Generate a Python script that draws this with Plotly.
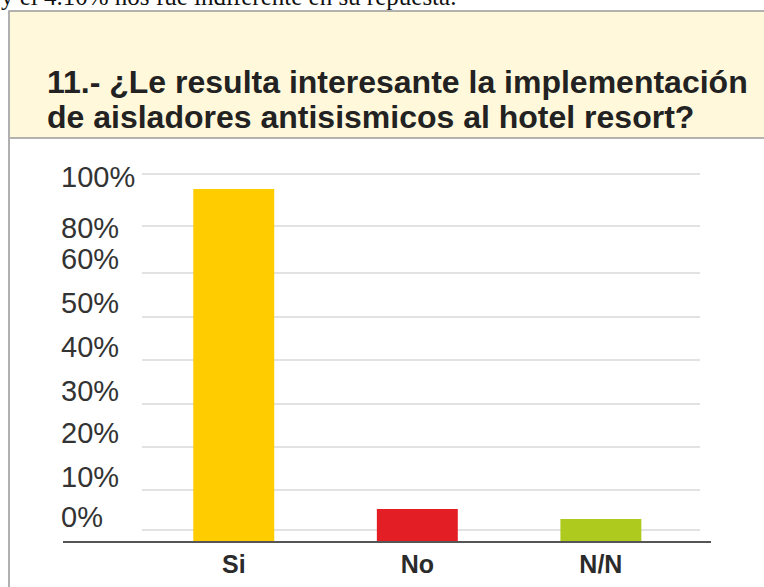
import plotly.graph_objects as go

# ---- data ----
categories = ["Si", "No", "N/N"]
values = [95.9, 9.0, 6.25]
bar_colors = ["#FFCC00", "#E31E24", "#AFCA1F"]

grid_levels = [100, 85.9, 73.1, 61.1, 49.5, 37.5, 25.8, 14.1, 3.3]
tick_labels = ["100%", "80%", "60%", "50%", "40%", "30%", "20%", "10%", "0%"]
label_levels = [99.2, 85.3, 76.9, 64.9, 53.0, 41.0, 29.6, 17.7, 6.8]

title_lines = ["11.- ¿Le resulta interesante la implementación",
               "de aisladores antisismicos al hotel resort?"]
top_text = "y el 4.10% nos fue indiferente en su repuesta."

# ---- layout geometry (pixels) ----
W, H = 764, 587
ML, MR, MT, MB = 57, 64, 150, 45
PW = W - ML - MR
PH = H - MT - MB
Y_RANGE = [0, PH / 3.68]


def px_x(px):
    return (px - ML) / PW


def px_y(py):
    return (H - MB - py) / PH


fig = go.Figure()
fig.add_trace(go.Bar(
    x=categories, y=values, marker=dict(color=bar_colors, line=dict(width=0)),
    width=0.441, showlegend=False, hoverinfo="x+y",
))
# invisible companion trace so the label axis is drawn
fig.add_trace(go.Scatter(
    x=categories, y=values, yaxis="y2", mode="markers",
    marker=dict(opacity=0), showlegend=False, hoverinfo="skip",
))

fig.update_layout(
    width=W, height=H,
    margin=dict(l=ML, r=MR, t=MT, b=MB, pad=0, autoexpand=False),
    paper_bgcolor="white", plot_bgcolor="white",
    xaxis=dict(
        domain=[px_x(142), 1], range=[-0.5, 2.54], type="category",
        showgrid=False, showline=False, zeroline=False, ticks="",
        automargin=False,
        tickfont=dict(family="Liberation Sans, Arial",
                      size=25, color="#2b2b2b", weight="bold"),
        ticklabelstandoff=5,
    ),
    yaxis=dict(
        range=Y_RANGE, tickmode="array", tickvals=grid_levels,
        showticklabels=False, showgrid=True, gridcolor="#e2e2e2", gridwidth=1.5,
        zeroline=False, showline=False, ticks="", automargin=False,
    ),
    yaxis2=dict(
        overlaying="y", anchor="free", position=0, side="left",
        range=Y_RANGE, tickmode="array", tickvals=label_levels, ticktext=tick_labels,
        showgrid=False, zeroline=False, showline=False, ticks="",
        ticklabelposition="inside", automargin=False,
        tickfont=dict(family="Liberation Sans, Arial", size=29, color="#333333"),
    ),
    bargap=0.5,
)

# header box
fig.add_shape(type="rect", xref="paper", yref="paper",
              x0=px_x(9), x1=px_x(780), y0=px_y(138), y1=px_y(11),
              fillcolor="#FFF8DB", line=dict(color="#9a9a9a", width=1.5), layer="below")
# left frame border
fig.add_shape(type="line", xref="paper", yref="paper",
              x0=px_x(9), x1=px_x(9), y0=px_y(11), y1=px_y(600),
              line=dict(color="#b0b0b0", width=2))
# baseline
fig.add_shape(type="line", xref="paper", yref="paper",
              x0=px_x(63), x1=px_x(711), y0=px_y(542), y1=px_y(542),
              line=dict(color="#555555", width=2), layer="above")

# title lines
title_font = dict(family="Liberation Sans, Arial", size=32, color="#222222", weight="bold")
fig.add_annotation(text=title_lines[0], xref="paper", yref="paper",
                   x=px_x(45), y=px_y(82), xanchor="left", yanchor="middle",
                   showarrow=False, font=title_font)
fig.add_annotation(text=title_lines[1], xref="paper", yref="paper",
                   x=px_x(45), y=px_y(117), xanchor="left", yanchor="middle",
                   showarrow=False, font=title_font)
# cut-off document text above the chart
fig.add_annotation(text=top_text, xref="paper", yref="paper",
                   x=px_x(-1), y=px_y(-3), xanchor="left", yanchor="middle",
                   showarrow=False,
                   font=dict(family="Liberation Serif, Times New Roman", size=25, color="#111111"))

fig.write_html("out.html", config={"displayModeBar": False},
               post_script="document.body.style.margin='0px';")
